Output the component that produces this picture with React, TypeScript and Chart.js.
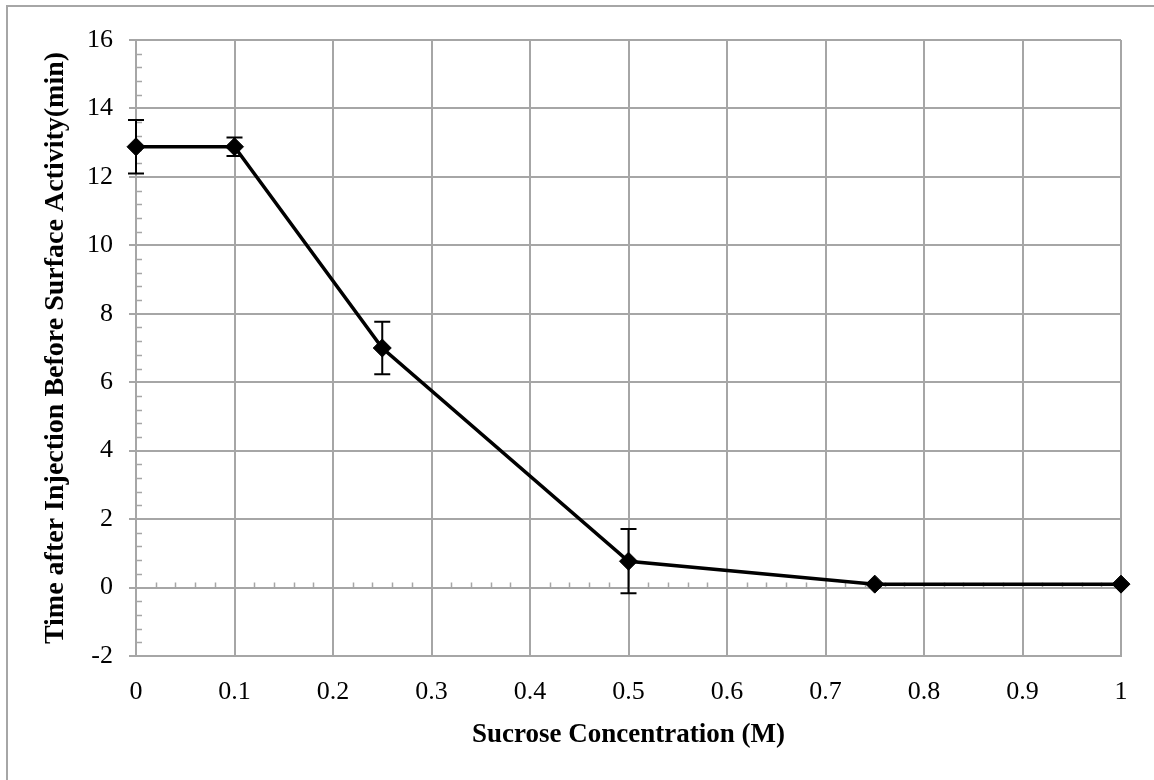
import React, { useEffect, useRef } from "react";
import { Chart, registerables } from "chart.js";

Chart.register(...registerables);

const concentrations = [0, 0.1, 0.25, 0.5, 0.75, 1];
const times = [12.88, 12.88, 7.0, 0.77, 0.1, 0.1];
const errors = [0.78, 0.27, 0.77, 0.94, 0, 0];

const xTitle = "Sucrose Concentration (M)";
const yTitle = "Time after Injection Before Surface Activity(min)";

const GRID = "#a6a6a6";
const FONT = "'Liberation Serif', 'Times New Roman', serif";

const extrasPlugin = {
  id: "extras",
  beforeDraw(chart: any) {
    const ctx = chart.ctx;
    ctx.save();
    ctx.fillStyle = "#ffffff";
    ctx.fillRect(0, 0, chart.width, chart.height);
    ctx.fillStyle = GRID;
    ctx.fillRect(6, 5, chart.width - 6, 2);
    ctx.fillRect(6, 5, 2, chart.height - 5);
    ctx.restore();
  },
  beforeDatasetsDraw(chart: any) {
    const ctx = chart.ctx;
    const xs = chart.scales.x;
    const ys = chart.scales.y;
    ctx.save();
    ctx.strokeStyle = GRID;
    ctx.lineWidth = 1.5;
    ctx.beginPath();
    for (let i = 0; i <= 45; i++) {
      const v = -2 + i * 0.4;
      if (Math.abs(v / 2 - Math.round(v / 2)) < 1e-6) continue;
      const py = Math.round(ys.getPixelForValue(v)) + 0.5;
      ctx.moveTo(xs.left, py);
      ctx.lineTo(xs.left + 6, py);
    }
    const y0 = ys.getPixelForValue(0);
    for (let i = 0; i <= 50; i++) {
      const v = i * 0.02;
      if (i % 5 === 0) continue;
      const px = Math.round(xs.getPixelForValue(v)) + 0.5;
      ctx.moveTo(px, y0);
      ctx.lineTo(px, y0 - 5);
    }
    ctx.stroke();
    ctx.restore();
  },
  afterDatasetsDraw(chart: any) {
    const ctx = chart.ctx;
    const xs = chart.scales.x;
    const ys = chart.scales.y;
    ctx.save();
    ctx.strokeStyle = "#000000";
    ctx.lineWidth = 2;
    ctx.beginPath();
    for (let i = 0; i < concentrations.length; i++) {
      const e = errors[i];
      if (!e) continue;
      const px = xs.getPixelForValue(concentrations[i]);
      const top = ys.getPixelForValue(times[i] + e);
      const bot = ys.getPixelForValue(times[i] - e);
      ctx.moveTo(px, top);
      ctx.lineTo(px, bot);
      ctx.moveTo(px - 8, top);
      ctx.lineTo(px + 8, top);
      ctx.moveTo(px - 8, bot);
      ctx.lineTo(px + 8, bot);
    }
    ctx.stroke();
    ctx.restore();
  },
};

export default function App() {
  const ref = useRef<HTMLCanvasElement | null>(null);

  useEffect(() => {
    if (!ref.current) return;
    const chart = new Chart(ref.current, {
      type: "scatter",
      data: {
        datasets: [
          {
            data: concentrations.map((x, i) => ({ x, y: times[i] })),
            showLine: true,
            borderColor: "#000000",
            backgroundColor: "#000000",
            borderWidth: 3.5,
            pointStyle: "rectRot",
            pointRadius: 9,
            pointBorderWidth: 1,
            pointBackgroundColor: "#000000",
            pointBorderColor: "#000000",
            clip: false,
            tension: 0,
          } as any,
        ],
      },
      options: {
        responsive: false,
        animation: false,
        events: [],
        layout: { padding: { left: 0, right: 33, top: 40, bottom: 0 } },
        plugins: {
          legend: { display: false },
          tooltip: { enabled: false },
          title: { display: false },
        },
        scales: {
          x: {
            type: "linear",
            min: 0,
            max: 1,
            afterFit: (s: any) => {
              s.height = 124;
            },
            ticks: {
              stepSize: 0.1,
              padding: 21,
              color: "#000000",
              font: { family: FONT, size: 26 },
              callback: (v: any) => String(Math.round(Number(v) * 10) / 10),
              maxRotation: 0,
              autoSkip: false,
            },
            grid: { color: GRID, lineWidth: 2, drawTicks: false },
            border: { color: GRID, width: 2 },
            title: {
              display: true,
              text: xTitle,
              color: "#000000",
              font: { family: FONT, size: 27, weight: "bold" },
              padding: { top: 0, bottom: 29 },
            },
          },
          y: {
            type: "linear",
            min: -2,
            max: 16,
            afterFit: (s: any) => {
              s.width = 136;
            },
            ticks: {
              stepSize: 2,
              padding: 16,
              color: "#000000",
              font: { family: FONT, size: 26 },
            },
            grid: { color: GRID, lineWidth: 2, tickLength: 7 },
            border: { color: GRID, width: 2 },
            title: {
              display: true,
              text: yTitle,
              color: "#000000",
              font: { family: FONT, size: 28, weight: "bold" },
              padding: { top: 39, bottom: 0 },
            },
          },
        },
      },
      plugins: [extrasPlugin],
    });
    return () => chart.destroy();
  }, []);

  return (
    <div style={{ position: "fixed", left: 0, top: 0, width: 1154, height: 780, background: "#fff" }}>
      <canvas ref={ref} width={1154} height={780} style={{ display: "block" }} />
    </div>
  );
}
